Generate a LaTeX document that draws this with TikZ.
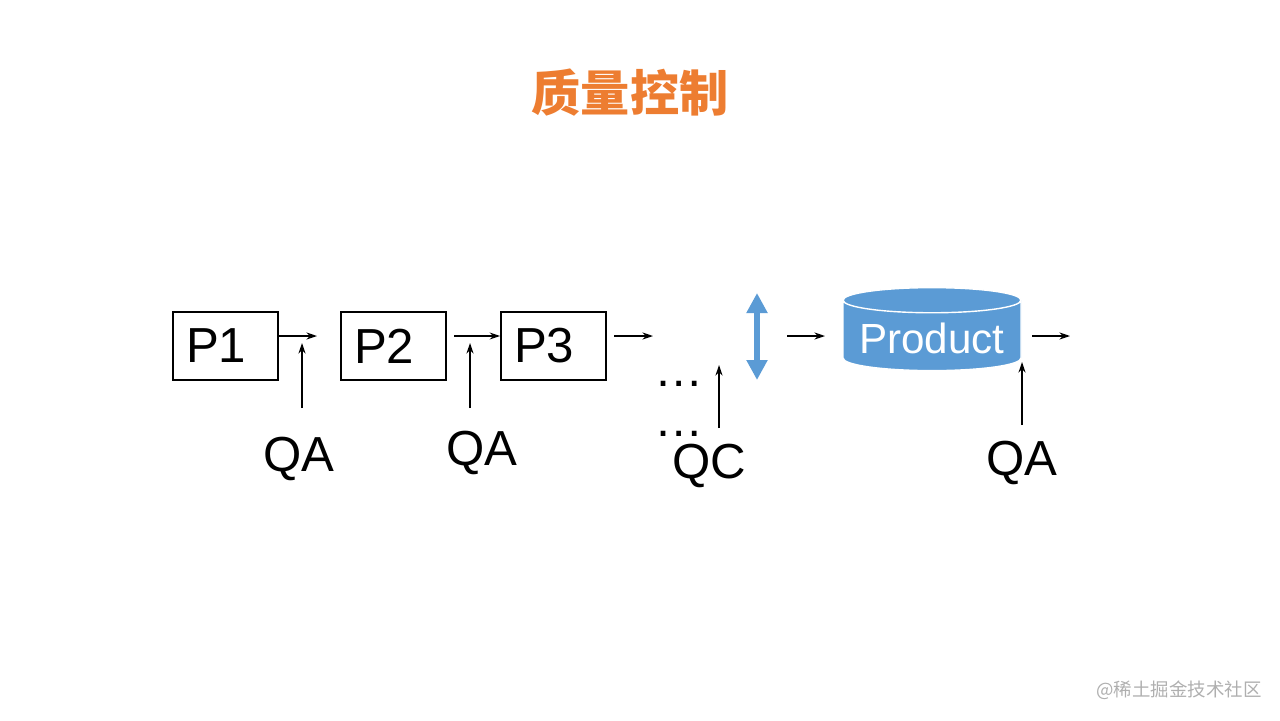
\documentclass[tikz,border=0pt]{standalone}
\usepackage{fontspec}
\setmainfont{Liberation Sans}
\newfontfamily\cjkfont{Noto Sans CJK SC}
\usetikzlibrary{arrows.meta,shapes.geometric,positioning}
\definecolor{titleorange}{RGB}{237,125,49}
\definecolor{dbblue}{RGB}{91,155,213}
\definecolor{markgray}{RGB}{175,175,175}
\tikzset{
  %Define standard arrow tip
    >={Stealth[length=6pt,width=4pt]},
  %define style for boxes
  stage/.style={
    rectangle,
    draw=black, line width=1.2pt,
    minimum width=2.1cm,
    minimum height=1.36cm,
    inner xsep=0.26cm,
    text width=1.58cm,
    align=left,
    font=\fontsize{28}{32}\selectfont},
  %define style for the product store
  store/.style={
    cylinder,
    shape border rotate=90,
    aspect=0.16,
    minimum width=3.56cm,
    minimum height=1.66cm,
    fill=dbblue, draw=white, thick,
    text=white,
    font=\fontsize{24}{28}\selectfont},
  %define style for labels
  check/.style={
    inner sep=0pt,
    anchor=base,
    font=\fontsize{28}{32}\selectfont},
  %define style for arrows
  myarrow/.style={
    ->,
    thick},
  updown/.style={
    {Triangle[length=0.4cm,width=0.4cm]}-{Triangle[length=0.4cm,width=0.4cm]},
    line width=0.12cm,
    dbblue}
}
\begin{document}
\begin{tikzpicture}[x=0.02cm, y=-0.02cm]
\useasboundingbox (0,0) rectangle (1280,720);
%title
\node[text=titleorange, font=\cjkfont\bfseries\fontsize{28}{30}\selectfont] (title) at (630,93) {质量控制};

%process boxes
\node[stage] (p1) at (225.5,346) {P1};
\node[stage, right=1.22cm of p1] (p2) {P2};
\node[stage, right=1.06cm of p2] (p3) {P3};

%product store
\node[store] (product) at (932,338) {Product};

%labels
\node[check] (qa1) at (299,471) {QA};
\node[check] (qa2) at (482,465) {QA};
\node[check] (qc) at (709,478) {QC};
\node[check] (qa3) at (1022,475) {QA};
\node[check] (dots1) at (679,386) {…};
\node[check] (dots2) at (679,436) {…};
\node[font=\cjkfont\fontsize{10.5}{12}\selectfont, text=markgray] (mark) at (1179,690) {@稀土掘金技术社区};

%free ends
\coordinate (e1) at (317,336);
\coordinate (b2) at (454,336);
\coordinate (b3) at (614,336);
\coordinate (e3) at (653,336);
\coordinate (b4) at (787,336);
\coordinate (e4) at (825,336);
\coordinate (b5) at (1032,336);
\coordinate (e5) at (1070,336);
\coordinate (s1) at (302,408);
\coordinate (t1) at (302,343);
\coordinate (s2) at (470,408);
\coordinate (t2) at (470,343);
\coordinate (s3) at (719,428);
\coordinate (t3) at (719,365);
\coordinate (s4) at (1022,425);
\coordinate (t4) at (1022,362);
\coordinate (u1) at (757,293);
\coordinate (u2) at (757,380);

%arrows
\draw[myarrow] (p1.east |- e1) -- (e1);
\draw[myarrow] (b2) -- (b2 -| p3.west);
\draw[myarrow] (b3) -- (e3);
\draw[myarrow] (b4) -- (e4);
\draw[myarrow] (b5) -- (e5);
\draw[myarrow] (s1) -- (t1);
\draw[myarrow] (s2) -- (t2);
\draw[myarrow] (s3) -- (t3);
\draw[myarrow] (s4) -- (t4);
\draw[updown] (u1) -- (u2);

\end{tikzpicture}
\end{document}
